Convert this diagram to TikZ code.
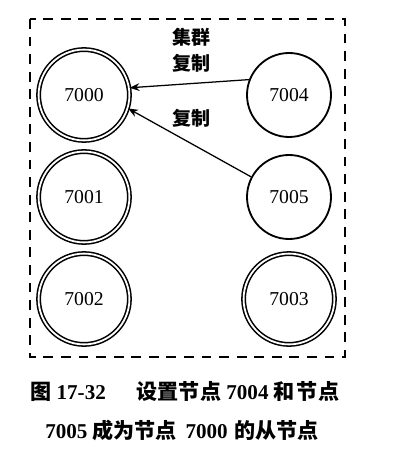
\documentclass[tikz,border=0pt]{standalone}
\usepackage{fontspec}
\setmainfont{Liberation Serif}
\newfontfamily\cjk{Noto Sans CJK SC}
\usepackage{tikz}
\usetikzlibrary{positioning, arrows, arrows.meta, shapes, calc}
\tikzstyle{arrow} = [line width=0.9pt,->,>={Stealth[length=7pt,width=5.5pt]}]
\tikzstyle{master} = [circle, draw=black, double, line width=1.1pt, double distance=1.3pt, minimum size=2.27cm, inner sep=0pt, font=\fontsize{14}{16}\selectfont]
\tikzstyle{replica} = [circle, draw=black, line width=1.3pt, minimum size=2.1cm, inner sep=0pt, font=\fontsize{14}{16}\selectfont]
\tikzstyle{cluster} = [line width=1.4pt, dash pattern=on 7pt off 5.5pt]
\tikzstyle{zhtext} = [font=\cjk\bfseries\fontsize{13.5}{16}\selectfont, inner sep=0pt]
\tikzstyle{caption} = [font=\bfseries\fontsize{15}{18}\selectfont, inner sep=0pt, anchor=west]

\begin{document}
\begin{tikzpicture}[node distance=2.55cm]
        \useasboundingbox (0,0) rectangle (10.2,-11.525);
        \draw [cluster] (0.75,-0.475) rectangle (8.625,-8.925);

        \node (n7000) [master] at (2.1,-2.375) {7000};
        \node (n7001) [master, below of=n7000] {7001};
        \node (n7002) [master, below of=n7001] {7002};
        \node (n7004) [replica, right of=n7000, xshift=2.575cm] {7004};
        \node (n7005) [replica, below of=n7004] {7005};
        \node (n7003) [master, below of=n7005] {7003};

        \node (clustername) [zhtext] at (4.775,-0.925) {集群};
        \node (copytop) [zhtext] at (4.775,-1.575) {复制};
        \node (copybottom) [zhtext] at (4.775,-2.95) {复制};

        \draw [arrow] (n7004.159) -- (n7000.9);
        \draw [arrow] (n7005.152) -- (n7000.-17);

        % caption lines, spread as in the print
        \node (captionone) [caption] at (0.75,-9.775) {{\cjk 图} 17-32\hspace{22pt}{\cjk 设置节点} 7004 {\cjk 和\hspace{1pt}节\hspace{1pt}点}};
        \node (captiontwo) [caption] at (1.125,-10.75) {7005 {\cjk 成为节点}\hspace{6pt}7000\hspace{5pt}{\cjk 的从节点}};
\end{tikzpicture}
\end{document}
